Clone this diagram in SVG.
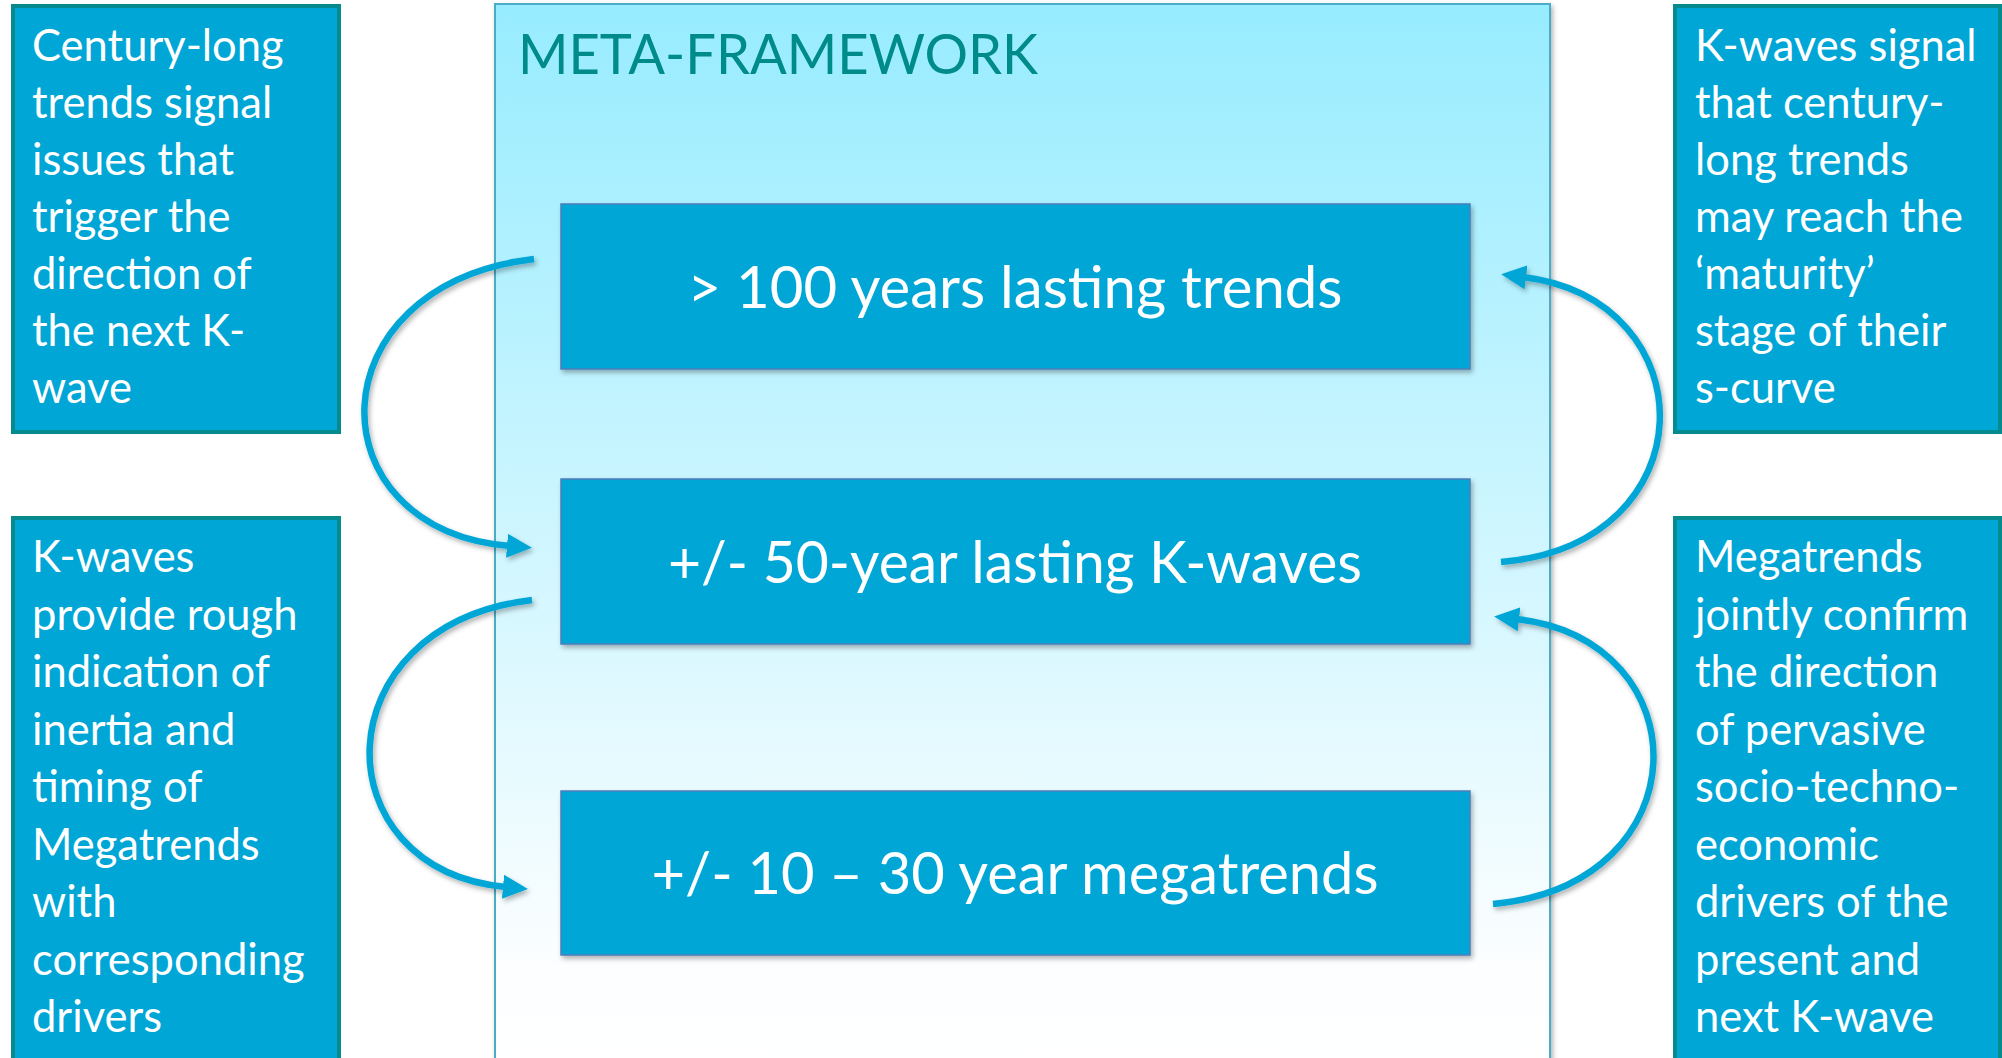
<svg xmlns="http://www.w3.org/2000/svg" width="2002" height="1058" viewBox="0 0 2002 1058">
<style>
.side{fill:#00A6D6;stroke:#058A8E;stroke-width:4}
.stxt{font-family:Lato,"Open Sans","Liberation Sans",sans-serif;font-size:43.5px;fill:#FFFFFF}
.cbox{fill:#00A6D6;stroke:#4A7EBB;stroke-width:1.5}
.ctxt{font-family:Lato,"Open Sans","Liberation Sans",sans-serif;font-size:59px;fill:#FFFFFF;text-anchor:middle}
.title{font-family:Lato,"Open Sans","Liberation Sans",sans-serif;font-size:57px;fill:#008B8B}
.conn{fill:none;stroke:#00A6D6;stroke-width:6.5;marker-end:url(#ah)}
</style>
<defs>
<linearGradient id="bg" x1="0" y1="0" x2="0" y2="1">
<stop offset="0" stop-color="#97ECFF"/>
<stop offset="0.9" stop-color="#FCFEFF"/>
<stop offset="1" stop-color="#FFFFFF"/>
</linearGradient>
<filter id="sh" x="-10%" y="-10%" width="120%" height="130%">
<feDropShadow dx="2" dy="3" stdDeviation="2.5" flood-color="#000" flood-opacity="0.3"/>
</filter>
<marker id="ah" markerUnits="userSpaceOnUse" viewBox="0 0 25 24" refX="3" refY="12" markerWidth="25" markerHeight="24" orient="auto">
<path d="M0,0 L25,12 L0,24 z" fill="#00A6D6"/>
</marker>
</defs>
<g id="meta-framework">
<rect x="495" y="4" width="1055" height="1070" fill="url(#bg)" stroke="#4BACC6" stroke-width="2" filter="url(#sh)"/>
<text class="title" x="518" y="74" textLength="520" lengthAdjust="spacingAndGlyphs">META-FRAMEWORK</text>
</g>
<g id="side-top-left">
<rect class="side" x="13" y="6" width="326" height="426"/>
<text class="stxt"><tspan x="32" y="61">Century-long</tspan><tspan x="32" y="118">trends signal</tspan><tspan x="32" y="175">issues that</tspan><tspan x="32" y="232">trigger the</tspan><tspan x="32" y="289">direction of</tspan><tspan x="32" y="346">the next K-</tspan><tspan x="32" y="403">wave</tspan></text>
</g>
<g id="side-top-right">
<rect class="side" x="1675" y="6" width="325" height="426"/>
<text class="stxt"><tspan x="1695" y="61">K-waves signal</tspan><tspan x="1695" y="118">that century-</tspan><tspan x="1695" y="175">long trends</tspan><tspan x="1695" y="232">may reach the</tspan><tspan x="1695" y="289">‘maturity’</tspan><tspan x="1695" y="346">stage of their</tspan><tspan x="1695" y="403">s-curve</tspan></text>
</g>
<g id="side-bottom-left">
<rect class="side" x="13" y="518" width="326" height="560"/>
<text class="stxt"><tspan x="32" y="572">K-waves</tspan><tspan x="32" y="630">provide rough</tspan><tspan x="32" y="687">indication of</tspan><tspan x="32" y="745">inertia and</tspan><tspan x="32" y="802">timing of</tspan><tspan x="32" y="860">Megatrends</tspan><tspan x="32" y="917">with</tspan><tspan x="32" y="975">corresponding</tspan><tspan x="32" y="1032">drivers</tspan></text>
</g>
<g id="side-bottom-right">
<rect class="side" x="1675" y="518" width="325" height="560"/>
<text class="stxt"><tspan x="1695" y="572">Megatrends</tspan><tspan x="1695" y="630">jointly confirm</tspan><tspan x="1695" y="687">the direction</tspan><tspan x="1695" y="745">of pervasive</tspan><tspan x="1695" y="802">socio-techno-</tspan><tspan x="1695" y="860">economic</tspan><tspan x="1695" y="917">drivers of the</tspan><tspan x="1695" y="975">present and</tspan><tspan x="1695" y="1032">next K-wave</tspan></text>
</g>
<g id="box-100-years">
<rect class="cbox" x="561" y="204" width="909" height="165" filter="url(#sh)"/>
<text class="ctxt" x="1015" y="308" textLength="655" lengthAdjust="spacingAndGlyphs">&gt; 100 years lasting trends</text>
</g>
<g id="box-50-years">
<rect class="cbox" x="561" y="479" width="909" height="165" filter="url(#sh)"/>
<text class="ctxt" x="1015" y="583" textLength="694" lengthAdjust="spacingAndGlyphs">+/- 50-year lasting K-waves</text>
</g>
<g id="box-10-30-years">
<rect class="cbox" x="561" y="791" width="909" height="164" filter="url(#sh)"/>
<text class="ctxt" x="1015" y="894" textLength="727" lengthAdjust="spacingAndGlyphs">+/- 10 – 30 year megatrends</text>
</g>
<g id="connectors" filter="url(#sh)">
<path class="conn" d="M534,259 C312,285 312,530 510,546"/>
<path class="conn" d="M532,600 C320,625 320,870 506,887"/>
<path class="conn" d="M1501,562 C1709,545 1709,300 1523,277"/>
<path class="conn" d="M1493,904 C1703,885 1703,640 1516,619"/>
</g>
</svg>
